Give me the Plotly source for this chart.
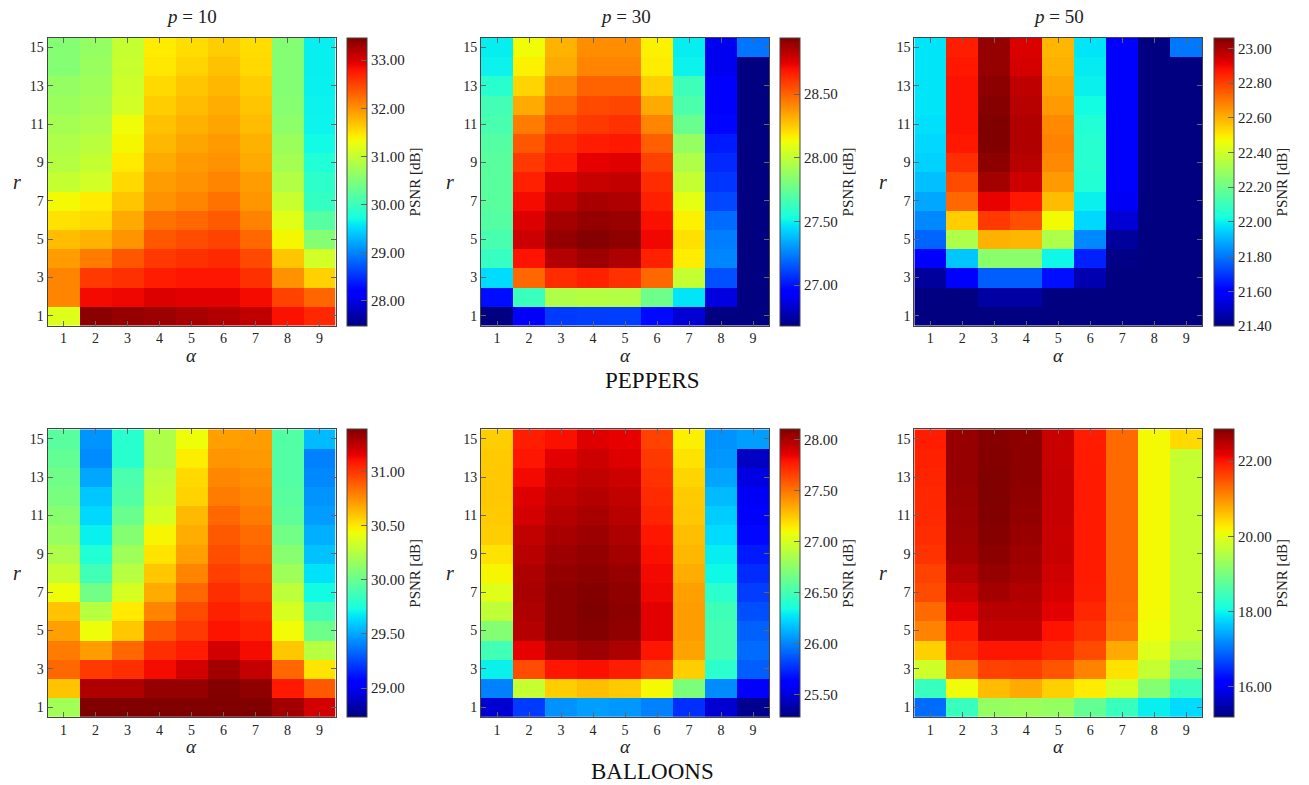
import numpy as np
import plotly.graph_objects as go

W, H = 1309, 785

alpha_vals = [1, 2, 3, 4, 5, 6, 7, 8, 9]
r_vals = list(range(1, 16))
r_ticks = [1, 3, 5, 7, 9, 11, 13, 15]

# rows: r = 1 .. 15 ; columns: alpha = 1 .. 9  (PSNR in dB)
peppers_p10 = [
    [31.19, 33.40, 33.35, 33.31, 33.25, 33.20, 33.13, 32.82, 32.68],
    [32.08, 32.86, 32.88, 32.98, 32.95, 32.95, 32.85, 32.50, 32.28],
    [32.08, 32.56, 32.62, 32.74, 32.78, 32.78, 32.62, 32.00, 31.60],
    [31.93, 32.14, 32.38, 32.56, 32.62, 32.66, 32.47, 31.67, 31.10],
    [31.73, 31.79, 31.99, 32.38, 32.44, 32.50, 32.26, 31.36, 30.53],
    [31.49, 31.55, 31.85, 32.20, 32.26, 32.35, 32.10, 31.20, 30.20],
    [31.34, 31.43, 31.67, 32.00, 32.08, 32.20, 31.97, 31.02, 29.95],
    [31.00, 31.10, 31.55, 31.93, 32.00, 32.08, 31.93, 30.87, 29.90],
    [30.89, 31.00, 31.44, 31.85, 31.95, 32.00, 31.85, 30.77, 29.81],
    [30.83, 30.92, 31.36, 31.76, 31.88, 31.95, 31.80, 30.70, 29.70],
    [30.77, 30.83, 31.31, 31.70, 31.80, 31.88, 31.73, 30.60, 29.66],
    [30.70, 30.77, 31.10, 31.62, 31.73, 31.82, 31.67, 30.55, 29.65],
    [30.65, 30.72, 31.06, 31.55, 31.67, 31.76, 31.62, 30.53, 29.64],
    [30.53, 30.68, 31.02, 31.46, 31.58, 31.70, 31.55, 30.53, 29.63],
    [30.53, 30.65, 31.00, 31.43, 31.52, 31.62, 31.52, 30.53, 29.63],
]
peppers_p30 = [
    [26.68, 26.92, 27.09, 27.10, 27.10, 26.98, 26.84, 26.68, 26.60],
    [26.99, 27.63, 27.95, 27.97, 27.96, 27.77, 27.47, 26.87, 26.60],
    [27.45, 28.49, 28.63, 28.66, 28.62, 28.49, 28.01, 27.14, 26.60],
    [27.62, 28.69, 28.84, 28.88, 28.85, 28.66, 28.17, 27.26, 26.60],
    [27.67, 28.79, 28.90, 28.93, 28.91, 28.72, 28.20, 27.24, 26.60],
    [27.70, 28.76, 28.87, 28.90, 28.89, 28.70, 28.16, 27.20, 26.60],
    [27.72, 28.71, 28.81, 28.86, 28.85, 28.66, 28.10, 27.12, 26.60],
    [27.72, 28.66, 28.76, 28.80, 28.81, 28.63, 28.01, 27.08, 26.60],
    [27.72, 28.60, 28.67, 28.74, 28.75, 28.58, 27.95, 27.05, 26.60],
    [27.70, 28.53, 28.63, 28.67, 28.68, 28.51, 27.88, 27.02, 26.60],
    [27.67, 28.44, 28.56, 28.60, 28.62, 28.42, 27.76, 26.97, 26.60],
    [27.65, 28.33, 28.49, 28.56, 28.57, 28.33, 27.68, 26.95, 26.60],
    [27.58, 28.23, 28.42, 28.50, 28.50, 28.24, 27.64, 26.94, 26.60],
    [27.50, 28.16, 28.33, 28.42, 28.42, 28.17, 27.50, 26.90, 26.60],
    [27.49, 28.13, 28.31, 28.40, 28.40, 28.16, 27.49, 26.90, 27.22],
]
peppers_p50 = [
    [21.35, 21.33, 21.35, 21.35, 21.35, 21.33, 21.30, 21.30, 21.25],
    [21.38, 21.38, 21.45, 21.45, 21.40, 21.38, 21.35, 21.30, 21.25],
    [21.44, 21.60, 21.76, 21.76, 21.63, 21.47, 21.38, 21.30, 21.25],
    [21.60, 21.93, 22.26, 22.26, 22.01, 21.66, 21.41, 21.30, 21.25],
    [21.77, 22.33, 22.60, 22.59, 22.33, 21.83, 21.44, 21.30, 21.25],
    [21.83, 22.55, 22.81, 22.77, 22.47, 21.96, 21.52, 21.30, 21.25],
    [21.88, 22.73, 22.91, 22.87, 22.58, 22.00, 21.57, 21.30, 21.25],
    [21.92, 22.78, 23.01, 22.95, 22.64, 22.05, 21.58, 21.30, 21.25],
    [21.95, 22.83, 23.04, 22.98, 22.67, 22.06, 21.58, 21.30, 21.25],
    [21.96, 22.87, 23.06, 22.99, 22.68, 22.06, 21.58, 21.30, 21.25],
    [21.97, 22.88, 23.06, 22.99, 22.67, 22.05, 21.58, 21.30, 21.25],
    [21.98, 22.88, 23.05, 22.98, 22.64, 22.02, 21.58, 21.30, 21.25],
    [21.98, 22.88, 23.04, 22.97, 22.62, 22.00, 21.58, 21.30, 21.25],
    [21.98, 22.87, 23.03, 22.94, 22.60, 21.99, 21.58, 21.30, 21.25],
    [21.98, 22.86, 23.03, 22.93, 22.59, 21.98, 21.58, 21.30, 21.80],
]
balloons_p10 = [
    [30.18, 31.39, 31.39, 31.39, 31.39, 31.39, 31.39, 31.31, 31.20],
    [30.60, 31.28, 31.28, 31.34, 31.34, 31.38, 31.35, 31.08, 30.90],
    [30.86, 30.99, 31.02, 31.12, 31.20, 31.31, 31.23, 30.86, 30.51],
    [30.80, 30.71, 30.86, 31.02, 31.07, 31.20, 31.12, 30.59, 30.25],
    [30.70, 30.43, 30.59, 30.91, 30.99, 31.10, 31.06, 30.44, 30.01],
    [30.60, 30.25, 30.49, 30.78, 30.94, 31.06, 31.02, 30.35, 29.87],
    [30.43, 30.03, 30.35, 30.67, 30.86, 31.02, 30.97, 30.27, 29.72],
    [30.30, 29.87, 30.25, 30.59, 30.78, 30.97, 30.93, 30.17, 29.65],
    [30.22, 29.77, 30.17, 30.51, 30.70, 30.93, 30.88, 30.10, 29.57],
    [30.15, 29.69, 30.09, 30.46, 30.66, 30.90, 30.85, 30.03, 29.52],
    [30.10, 29.63, 30.00, 30.35, 30.63, 30.86, 30.80, 29.97, 29.47],
    [30.05, 29.58, 29.93, 30.30, 30.56, 30.80, 30.77, 29.95, 29.45],
    [30.02, 29.50, 29.90, 30.27, 30.54, 30.77, 30.75, 29.93, 29.42],
    [29.98, 29.43, 29.79, 30.22, 30.48, 30.73, 30.72, 29.93, 29.40],
    [29.95, 29.45, 29.79, 30.22, 30.43, 30.70, 30.71, 29.93, 29.55],
]
balloons_p30 = [
    [25.48, 25.79, 26.04, 26.07, 26.05, 25.99, 25.76, 25.48, 25.32],
    [25.99, 26.94, 27.23, 27.28, 27.24, 27.10, 26.69, 26.02, 25.58],
    [26.30, 27.62, 27.78, 27.80, 27.76, 27.65, 27.23, 26.41, 25.89],
    [26.49, 27.85, 27.99, 28.03, 27.99, 27.78, 27.36, 26.50, 25.93],
    [26.72, 27.97, 28.07, 28.09, 28.06, 27.86, 27.38, 26.50, 25.90],
    [26.92, 27.99, 28.07, 28.10, 28.07, 27.86, 27.38, 26.48, 25.85],
    [27.03, 28.00, 28.07, 28.09, 28.06, 27.83, 27.37, 26.41, 25.80],
    [27.11, 27.99, 28.05, 28.07, 28.04, 27.82, 27.33, 26.32, 25.75],
    [27.17, 27.96, 28.03, 28.05, 28.01, 27.80, 27.30, 26.29, 25.70],
    [27.23, 27.94, 28.00, 28.03, 27.99, 27.78, 27.28, 26.24, 25.65],
    [27.24, 27.90, 27.97, 28.00, 27.96, 27.74, 27.25, 26.20, 25.62],
    [27.25, 27.87, 27.94, 27.97, 27.94, 27.72, 27.24, 26.15, 25.57],
    [27.25, 27.82, 27.91, 27.94, 27.91, 27.70, 27.21, 26.09, 25.52],
    [27.24, 27.78, 27.86, 27.91, 27.87, 27.68, 27.17, 26.05, 25.45],
    [27.23, 27.76, 27.80, 27.87, 27.85, 27.65, 27.13, 26.04, 26.07],
]
balloons_p50 = [
    [16.94, 18.40, 19.25, 19.30, 19.25, 18.80, 18.40, 17.94, 17.79],
    [18.40, 20.09, 20.63, 20.78, 20.47, 20.24, 19.86, 19.10, 18.40],
    [19.78, 21.16, 21.62, 21.65, 21.47, 21.10, 20.32, 19.70, 19.00],
    [20.47, 21.78, 21.98, 21.98, 21.84, 21.55, 20.78, 19.93, 19.47],
    [21.10, 21.95, 22.40, 22.40, 22.00, 21.75, 21.20, 20.10, 19.70],
    [21.30, 22.20, 22.47, 22.47, 22.20, 21.85, 21.28, 20.13, 19.70],
    [21.55, 22.37, 22.60, 22.53, 22.27, 21.92, 21.30, 20.13, 19.70],
    [21.62, 22.50, 22.70, 22.60, 22.33, 21.94, 21.30, 20.13, 19.70],
    [21.75, 22.60, 22.77, 22.65, 22.37, 21.95, 21.30, 20.13, 19.70],
    [21.80, 22.64, 22.80, 22.69, 22.37, 21.95, 21.30, 20.13, 19.70],
    [21.83, 22.66, 22.83, 22.72, 22.38, 21.95, 21.30, 20.13, 19.70],
    [21.85, 22.68, 22.84, 22.74, 22.38, 21.95, 21.30, 20.13, 19.70],
    [21.87, 22.70, 22.84, 22.76, 22.38, 21.95, 21.30, 20.13, 19.70],
    [21.90, 22.70, 22.82, 22.77, 22.37, 21.94, 21.30, 20.13, 19.70],
    [21.93, 22.70, 22.80, 22.77, 22.37, 21.93, 21.30, 20.13, 20.40],
]

p_labels = ["10", "30", "50"]
image_names = ["PEPPERS", "BALLOONS"]
cb_ranges = [(27.48, 33.46), (26.68, 28.94), (21.40, 23.06),
             (28.73, 31.39), (25.28, 28.10), (15.18, 22.85)]
cb_ticks = [[28, 29, 30, 31, 32, 33],
            [27.0, 27.5, 28.0, 28.5],
            [21.4, 21.6, 21.8, 22.0, 22.2, 22.4, 22.6, 22.8, 23.0],
            [29.0, 29.5, 30.0, 30.5, 31.0],
            [25.5, 26.0, 26.5, 27.0, 27.5, 28.0],
            [16, 18, 20, 22]]
panels = [peppers_p10, peppers_p30, peppers_p50,
          balloons_p10, balloons_p30, balloons_p50]


# matplotlib "jet" colormap
def jet_scale(n=257):
    ts = np.linspace(0, 1, n)
    r = np.interp(ts, [0, 0.35, 0.66, 0.89, 1], [0, 0, 1, 1, 0.5])
    g = np.interp(ts, [0, 0.125, 0.375, 0.64, 0.91, 1], [0, 0, 1, 1, 0, 0])
    b = np.interp(ts, [0, 0.11, 0.34, 0.65, 1], [0.5, 1, 1, 0, 0])
    return [[float(t), "rgb(%d,%d,%d)" % (round(rr * 255), round(gg * 255), round(bb * 255))]
            for t, rr, gg, bb in zip(ts, r, g, b)]


JET = jet_scale()
FONT = "Liberation Serif, Times New Roman, serif"

# pixel geometry
hm_left = [47.5, 481.0, 914.3]
hm_w = 288.0
cb_left = [347.0, 780.0, 1213.7]
row_top = [38.0, 429.3]
hm_h = 287.5


def px(x):
    return x / W


def py(y):
    return 1 - y / H


fig = go.Figure()
layout = dict(width=W, height=H, margin=dict(l=0, r=0, t=0, b=0),
              paper_bgcolor="white", plot_bgcolor="white",
              font=dict(family=FONT, size=14, color="#222"), showlegend=False)
annotations = []

for i, z in enumerate(panels):
    row, col = divmod(i, 3)
    k = i + 1
    xa = "x" if k == 1 else "x%d" % k
    ya = "y" if k == 1 else "y%d" % k
    zmin, zmax = cb_ranges[i]
    top = row_top[row]
    fig.add_trace(go.Heatmap(
        z=z, x=alpha_vals, y=r_vals, xaxis=xa, yaxis=ya,
        colorscale=JET, zmin=zmin, zmax=zmax, zsmooth=False,
        colorbar=dict(
            x=px(cb_left[col]), xanchor="left", xpad=0,
            y=py(top), yanchor="top", ypad=0,
            len=hm_h, lenmode="pixels", thickness=20, thicknessmode="pixels",
            outlinewidth=1, outlinecolor="#444",
            tickvals=cb_ticks[i], tickformat=".2f", ticks="inside",
            ticklen=6, tickcolor="#666",
            tickfont=dict(family=FONT, size=15, color="#222"),
            title=dict(text="PSNR [dB]", side="right",
                       font=dict(family=FONT, size=15, color="#222")),
        ),
        hovertemplate="α=%{x}, r=%{y}<br>PSNR=%{z:.2f} dB<extra></extra>",
    ))
    axkey_x = "xaxis" if k == 1 else "xaxis%d" % k
    axkey_y = "yaxis" if k == 1 else "yaxis%d" % k
    layout[axkey_x] = dict(
        domain=[px(hm_left[col]), px(hm_left[col] + hm_w)], anchor=ya,
        range=[0.5, 9.5], tickvals=alpha_vals, ticks="inside", ticklen=5,
        tickcolor="#666", showline=True, linecolor="#444", linewidth=1,
        mirror="ticks", showgrid=False, zeroline=False,
        tickfont=dict(family=FONT, size=14, color="#222"))
    layout[axkey_y] = dict(
        domain=[py(top + hm_h), py(top)], anchor=xa,
        range=[0.5, 15.5], tickvals=r_ticks, ticks="inside", ticklen=5,
        tickcolor="#666", showline=True, linecolor="#444", linewidth=1,
        mirror="ticks", showgrid=False, zeroline=False,
        tickfont=dict(family=FONT, size=14, color="#222"))
    # axis labels
    annotations.append(dict(text="<i>α</i>", xref="paper", yref="paper",
                            x=px(hm_left[col] + hm_w / 2), y=py(top + hm_h + 30),
                            xanchor="center", yanchor="middle", showarrow=False,
                            font=dict(family=FONT, size=19, color="#222")))
    annotations.append(dict(text="<i>r</i>", xref="paper", yref="paper",
                            x=px(hm_left[col] - 31), y=py(top + hm_h / 2),
                            xanchor="center", yanchor="middle", showarrow=False,
                            font=dict(family=FONT, size=20, color="#222")))
    if row == 0:
        annotations.append(dict(text="<i>p</i> = " + p_labels[col], xref="paper", yref="paper",
                                x=px(hm_left[col] + hm_w / 2), y=py(17),
                                xanchor="center", yanchor="middle", showarrow=False,
                                font=dict(family=FONT, size=19, color="#222")))

annotations.append(dict(text=image_names[0], xref="paper", yref="paper",
                        x=px(652), y=py(380), xanchor="center", yanchor="middle",
                        showarrow=False, font=dict(family=FONT, size=23, color="#111")))
annotations.append(dict(text=image_names[1], xref="paper", yref="paper",
                        x=px(652), y=py(771), xanchor="center", yanchor="middle",
                        showarrow=False, font=dict(family=FONT, size=23, color="#111")))

layout["annotations"] = annotations
fig.update_layout(**layout)
fig.write_html("out.html")
